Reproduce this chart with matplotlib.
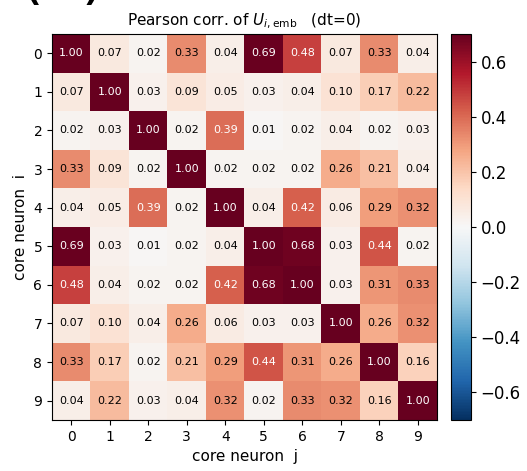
import numpy as np
import matplotlib
matplotlib.use("Agg")
import matplotlib.pyplot as plt

# correlation matrix
neurons = list(range(10))
corr = np.array([
    [1.00, 0.07, 0.02, 0.33, 0.04, 0.69, 0.48, 0.07, 0.33, 0.04],
    [0.07, 1.00, 0.03, 0.09, 0.05, 0.03, 0.04, 0.10, 0.17, 0.22],
    [0.02, 0.03, 1.00, 0.02, 0.39, 0.01, 0.02, 0.04, 0.02, 0.03],
    [0.33, 0.09, 0.02, 1.00, 0.02, 0.02, 0.02, 0.26, 0.21, 0.04],
    [0.04, 0.05, 0.39, 0.02, 1.00, 0.04, 0.42, 0.06, 0.29, 0.32],
    [0.69, 0.03, 0.01, 0.02, 0.04, 1.00, 0.68, 0.03, 0.44, 0.02],
    [0.48, 0.04, 0.02, 0.02, 0.42, 0.68, 1.00, 0.03, 0.31, 0.33],
    [0.07, 0.10, 0.04, 0.26, 0.06, 0.03, 0.03, 1.00, 0.26, 0.32],
    [0.33, 0.17, 0.02, 0.21, 0.29, 0.44, 0.31, 0.26, 1.00, 0.16],
    [0.04, 0.22, 0.03, 0.04, 0.32, 0.02, 0.33, 0.32, 0.16, 1.00],
])
vlim = 0.7

W, H = 527, 471
fig = plt.figure(figsize=(W / 100, H / 100), dpi=100)
ax = fig.add_axes([52 / W, 1 - 420 / H, 385 / W, 386 / H])
cax = fig.add_axes([451 / W, 1 - 420 / H, 20 / W, 386 / H])

im = ax.imshow(corr, cmap="RdBu_r", vmin=-vlim, vmax=vlim, aspect="auto")
for i in range(len(neurons)):
    for j in range(len(neurons)):
        v = corr[i, j]
        ax.text(j, i, f"{v:.2f}", ha="center", va="center", fontsize=8,
                color="white" if v > 0.35 else "black")

ax.set_xticks(neurons)
ax.set_yticks(neurons)
ax.tick_params(labelsize=10)
ax.set_xlabel("core neuron  j", fontsize=11)
ax.set_ylabel("core neuron  i", fontsize=11)
ax.set_title(r"Pearson corr. of $U_{i,\mathrm{emb}}$   (dt=0)", fontsize=11, pad=6)

cb = fig.colorbar(im, cax=cax)
cb.set_ticks([-0.6, -0.4, -0.2, 0.0, 0.2, 0.4, 0.6])
cb.ax.tick_params(labelsize=12)

# panel label, cut off by the top edge (only the bottom of the brackets shows)
fig.text(20 / W, 1 + 3 / H, "(b)", fontsize=44, va="baseline")

fig.savefig("out.png", dpi=100)
